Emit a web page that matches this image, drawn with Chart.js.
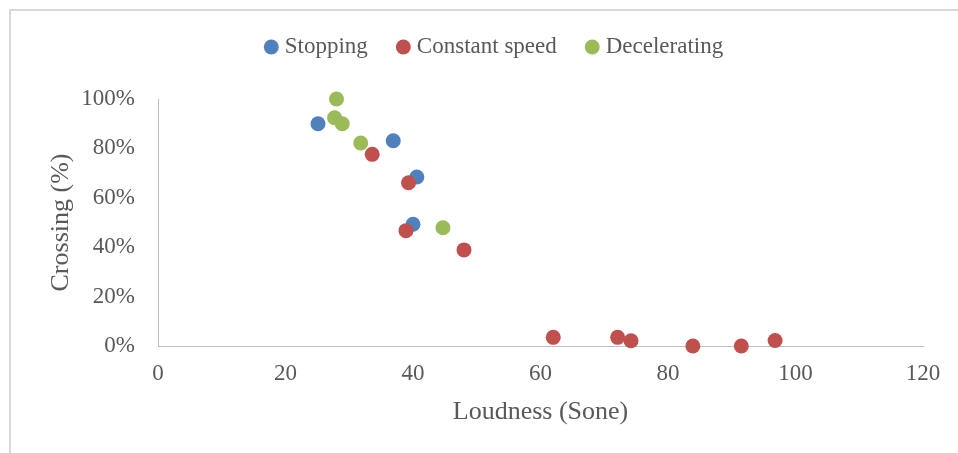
<!DOCTYPE html>
<html>
<head>
<meta charset="utf-8">
<script src="https://cdn.jsdelivr.net/npm/chart.js@4.4.0/dist/chart.umd.min.js"></script>
<style>
  body { margin: 0; background: #fff; }
  #wrap { position: relative; width: 958px; height: 453px; }
  #frame {
    position: absolute; left: 9px; top: 9px; width: 1000px; height: 500px;
    border-left: 2px solid #d9d9d9; border-top: 2px solid #d9d9d9;
  }
  canvas { position: absolute; left: 0; top: 0; }
</style>
</head>
<body>
<div id="wrap">
  <div id="frame"></div>
  <canvas id="chart" width="958" height="453"></canvas>
</div>
<script>
// --- data ---
const seriesNames = ['Stopping', 'Constant speed', 'Decelerating'];
const seriesColors = ['#4f81bd', '#c0504d', '#9bbb59'];

const stoppingX = [25.1, 36.9, 40.6, 40.0];
const stoppingY = [90, 83.1, 68.4, 49.3];

const constantX = [33.6, 39.3, 38.9, 48.0, 62.0, 72.1, 74.2, 83.9, 91.5, 96.8];
const constantY = [77.6, 66.1, 46.7, 38.9, 3.5, 3.5, 2.1, 0, 0, 2.2];

const deceleratingX = [28.0, 27.7, 28.9, 31.8, 44.7];
const deceleratingY = [100, 92.4, 90.0, 82.2, 47.9];

const xTitle = 'Loudness (Sone)';
const yTitle = 'Crossing (%)';

const FONT = "'Liberation Serif', 'Times New Roman', serif";
const TEXT = '#595959';
const AXIS = '#bfbfbf';

function toPoints(xs, ys) {
  return xs.map((x, i) => ({ x: x, y: ys[i] }));
}

// later series are painted over earlier ones (lower order = on top)
const datasets = [
  toPoints(stoppingX, stoppingY),
  toPoints(constantX, constantY),
  toPoints(deceleratingX, deceleratingY)
].map((pts, i) => ({
  label: seriesNames[i],
  data: pts,
  backgroundColor: seriesColors[i],
  borderWidth: 0,
  pointRadius: 7.5,
  pointHoverRadius: 7.5,
  clip: false,
  order: 3 - i
}));

// make the legend box taller so the plot starts where it does in the picture
const legendHeight = {
  id: 'legendHeight',
  beforeInit(chart) {
    const fit = chart.legend.fit;
    chart.legend.fit = function () {
      fit.call(this);
      this.height = 97;
    };
  }
};

new Chart(document.getElementById('chart'), {
  type: 'scatter',
  data: { datasets: datasets },
  plugins: [legendHeight],
  options: {
    responsive: false,
    animation: false,
    layout: { padding: { left: 69.5, right: 35, top: 2, bottom: 10 } },
    plugins: {
      tooltip: { enabled: false },
      legend: {
        position: 'top',
        labels: {
          usePointStyle: true,
          pointStyle: 'circle',
          boxWidth: 4,
          boxHeight: 10.6,
          padding: 33.5,
          color: TEXT,
          font: { family: FONT, size: 23 },
          sort: (a, b) => a.datasetIndex - b.datasetIndex
        }
      }
    },
    scales: {
      x: {
        type: 'linear',
        min: 0,
        max: 120,
        grid: { display: false, drawTicks: false },
        border: { display: true, color: AXIS, width: 1 },
        ticks: {
          stepSize: 20,
          padding: 14,
          color: TEXT,
          font: { family: FONT, size: 23 }
        },
        title: {
          display: true,
          text: xTitle,
          color: TEXT,
          font: { family: FONT, size: 26 },
          padding: { top: 0, bottom: 15 }
        },
        afterFit(scale) { scale.height = 97; }
      },
      y: {
        min: 0,
        max: 100,
        grid: { display: false, drawTicks: false },
        border: { display: true, color: AXIS, width: 1 },
        ticks: {
          stepSize: 20,
          padding: 23,
          color: TEXT,
          font: { family: FONT, size: 23 },
          callback: v => v + '%'
        },
        title: {
          display: true,
          text: yTitle,
          color: TEXT,
          font: { family: FONT, size: 26 },
          padding: { top: -24, bottom: 0 }
        },
        afterFit(scale) { scale.width = 88.5; }
      }
    }
  }
});
</script>
</body>
</html>
